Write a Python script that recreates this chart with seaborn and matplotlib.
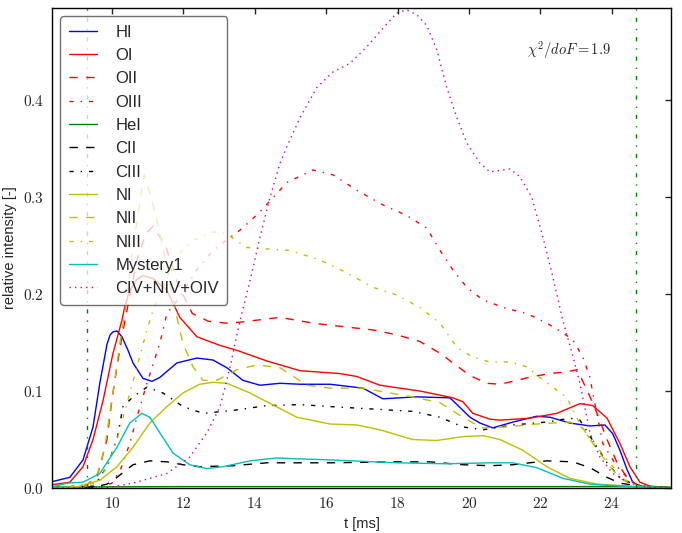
import numpy as np
import pandas as pd
import seaborn as sns
import matplotlib.pyplot as plt
from matplotlib.ticker import FuncFormatter, MultipleLocator

# Line intensities vs time
t_HI = [8.26, 8.82, 9.19, 9.47, 9.66, 9.86, 9.95, 10.03, 10.14, 10.28, 10.45, 10.59, 10.87, 11.12, 11.34, 11.82, 12.38,
        12.83, 13.22, 13.67, 14.15, 14.71, 15.27, 16.11, 17.03, 17.59, 18.54, 19.47, 20.03, 20.31, 20.67, 21.23,
        21.90, 22.27, 22.83, 23.39, 23.81, 24.03, 24.23, 24.43, 24.59, 24.79, 25.3, 25.7]
y_HI = [0.006, 0.011, 0.029, 0.063, 0.108, 0.148, 0.158, 0.161, 0.162, 0.156, 0.142, 0.129, 0.113, 0.110, 0.114, 0.129,
        0.134, 0.132, 0.124, 0.111, 0.106, 0.108, 0.107, 0.107, 0.103, 0.092, 0.094, 0.093, 0.073, 0.067, 0.062,
        0.068, 0.074, 0.073, 0.067, 0.064, 0.065, 0.056, 0.039, 0.019, 0.006, 0.002, 0.0, 0.0]

t_OI = [8.26, 8.82, 9.19, 9.47, 9.75, 10.03, 10.28, 10.36, 10.50, 10.70, 10.87, 11.15, 11.54, 11.90, 12.38, 13.03,
        13.50, 14.34, 15.27, 16.39, 16.86, 17.51, 18.63, 19.55, 19.83, 20.11, 20.59, 20.87, 21.71, 22.46, 23.11,
        23.47, 23.87, 24.23, 24.51, 24.79, 25.07, 25.7]
y_OI = [0.003, 0.006, 0.022, 0.050, 0.090, 0.139, 0.173, 0.187, 0.204, 0.215, 0.219, 0.216, 0.204, 0.176, 0.156, 0.147,
        0.142, 0.131, 0.121, 0.118, 0.115, 0.106, 0.100, 0.093, 0.089, 0.077, 0.071, 0.070, 0.072, 0.077, 0.087,
        0.085, 0.072, 0.046, 0.022, 0.006, 0.002, 0.0]

t_OII = [8.3, 9.2, 9.58, 9.86, 10.0, 10.14, 10.28, 10.42, 10.7, 10.95, 11.15, 11.5, 11.85, 12.25, 12.7, 13.2, 13.59,
         14.71, 15.63, 16.58, 17.31, 17.98, 18.63, 19.19, 19.55, 20.03, 20.50, 20.87, 21.34, 21.79, 22.27, 22.75,
         23.03, 23.31, 23.59, 23.87, 24.15, 24.43, 24.71, 25.2, 25.7]
y_OII = [0.0, 0.001, 0.011, 0.050, 0.091, 0.125, 0.156, 0.183, 0.235, 0.262, 0.27, 0.25, 0.21, 0.18, 0.172, 0.170, 0.171,
         0.176, 0.170, 0.166, 0.163, 0.158, 0.151, 0.139, 0.129, 0.116, 0.108, 0.107, 0.111, 0.115, 0.118, 0.120,
         0.122, 0.101, 0.077, 0.050, 0.026, 0.011, 0.003, 0.0, 0.0]

t_OIII = [8.3, 9.6, 10.0, 10.25, 10.5, 10.70, 10.98, 11.34, 11.54, 11.90, 12.38, 12.83, 13.22, 13.59, 13.95, 14.15,
          14.90, 15.63, 16.19, 16.86, 17.59, 18.26, 18.82, 19.19, 19.55, 19.94, 20.39, 21.06, 21.62, 22.18, 22.55,
          22.91, 23.19, 23.39, 23.47, 23.75, 24.15, 24.51, 24.71, 25.2, 25.7]
y_OIII = [0.0, 0.0, 0.005, 0.02, 0.046, 0.073, 0.108, 0.149, 0.180, 0.197, 0.225, 0.245, 0.256, 0.266, 0.278, 0.285,
          0.315, 0.328, 0.323, 0.307, 0.292, 0.281, 0.268, 0.245, 0.225, 0.207, 0.194, 0.185, 0.180, 0.170, 0.162,
          0.153, 0.135, 0.114, 0.098, 0.046, 0.022, 0.008, 0.003, 0.0, 0.0]

t_HeI = [8.3, 12.0, 16.0, 20.0, 24.0, 25.7]
y_HeI = [0.001, 0.0015, 0.0015, 0.0015, 0.0015, 0.001]

t_CII = [8.3, 9.5, 9.86, 10.14, 10.59, 11.06, 11.54, 11.99, 12.46, 13.39, 14.34, 15.27, 16.11, 17.98, 18.91, 19.83,
         20.59, 21.23, 22.18, 22.91, 23.39, 23.87, 24.23, 24.59, 25.2, 25.7]
y_CII = [0.0, 0.001, 0.004, 0.011, 0.024, 0.028, 0.027, 0.024, 0.022, 0.023, 0.026, 0.026, 0.026, 0.027, 0.027, 0.024,
         0.023, 0.024, 0.028, 0.027, 0.021, 0.011, 0.005, 0.003, 0.0, 0.0]

t_CIII = [8.3, 9.5, 9.86, 10.14, 10.31, 10.59, 10.98, 11.43, 11.99, 12.55, 13.39, 14.34, 15.27, 16.11, 17.51, 18.43,
          19.19, 19.83, 20.39, 21.23, 22.18, 22.83, 23.11, 23.47, 23.87, 24.23, 24.59, 25.2, 25.7]
y_CIII = [0.0, 0.002, 0.022, 0.050, 0.084, 0.094, 0.104, 0.098, 0.084, 0.077, 0.080, 0.085, 0.086, 0.084, 0.081, 0.079,
          0.073, 0.063, 0.060, 0.065, 0.068, 0.072, 0.070, 0.049, 0.026, 0.011, 0.004, 0.0, 0.0]

t_NI = [8.3, 9.0, 9.66, 10.14, 10.59, 11.06, 11.54, 11.99, 12.46, 12.83, 13.22, 13.87, 14.23, 15.18, 16.11, 16.86,
        17.51, 18.43, 19.10, 19.83, 20.39, 20.87, 21.51, 22.18, 22.83, 23.59, 24.51, 25.5]
y_NI = [0.0, 0.001, 0.008, 0.022, 0.042, 0.067, 0.084, 0.098, 0.107, 0.109, 0.108, 0.098, 0.091, 0.073, 0.066, 0.065,
        0.060, 0.050, 0.049, 0.053, 0.054, 0.050, 0.039, 0.022, 0.010, 0.004, 0.002, 0.0]

t_NII = [8.3, 9.3, 9.6, 9.80, 9.94, 10.08, 10.22, 10.36, 10.6, 10.9, 11.12, 11.34, 11.54, 11.71, 11.90, 11.99, 12.27,
         12.55, 12.94, 13.50, 14.06, 14.71, 15.46, 16.11, 17.03, 17.79, 18.54, 19.19, 19.83, 20.22, 20.31, 21.06,
         21.90, 22.83, 23.19, 23.47, 23.87, 24.23, 24.59, 25.2, 25.7]
y_NII = [0.0, 0.002, 0.015, 0.042, 0.077, 0.111, 0.149, 0.180, 0.250, 0.323, 0.297, 0.263, 0.228, 0.194, 0.163, 0.149,
         0.125, 0.111, 0.111, 0.122, 0.127, 0.124, 0.106, 0.103, 0.103, 0.098, 0.093, 0.088, 0.073, 0.065, 0.062,
         0.063, 0.066, 0.068, 0.062, 0.046, 0.026, 0.010, 0.003, 0.0, 0.0]

t_NIII = [8.3, 9.6, 9.9, 10.14, 10.45, 10.70, 10.98, 11.15, 11.57, 11.96, 12.32, 12.80, 13.17, 13.78, 14.15, 14.99,
          15.83, 16.58, 17.31, 17.98, 18.63, 19.19, 19.66, 20.11, 20.59, 21.15, 21.62, 21.99, 22.35, 22.75, 23.19,
          23.59, 23.95, 24.31, 24.59, 25.2, 25.7]
y_NIII = [0.0, 0.005, 0.025, 0.050, 0.091, 0.125, 0.163, 0.183, 0.218, 0.245, 0.256, 0.264, 0.263, 0.248, 0.247, 0.245,
          0.235, 0.222, 0.207, 0.199, 0.186, 0.170, 0.145, 0.135, 0.130, 0.130, 0.125, 0.114, 0.104, 0.093, 0.060,
          0.042, 0.026, 0.010, 0.004, 0.0, 0.0]

t_Mys = [8.3, 8.74, 9.19, 9.66, 10.14, 10.50, 10.84, 11.06, 11.34, 11.71, 12.18, 12.66, 13.11, 13.87, 14.62, 15.27,
         16.11, 17.98, 19.38, 20.59, 21.23, 21.90, 22.63, 23.39, 24.23, 25.7]
y_Mys = [0.001, 0.005, 0.006, 0.015, 0.042, 0.067, 0.077, 0.073, 0.057, 0.036, 0.024, 0.020, 0.022, 0.028, 0.031, 0.030,
         0.029, 0.026, 0.025, 0.026, 0.026, 0.021, 0.010, 0.004, 0.002, 0.0]

t_IV = [8.3, 9.8, 10.59, 11.54, 12.18, 12.66, 13.03, 13.31, 13.59, 13.87, 14.15, 14.43, 14.71, 14.90, 15.27, 15.74,
        16.19, 16.67, 17.14, 17.59, 17.98, 18.26, 18.54, 18.82, 19.10, 19.38, 19.66, 19.94, 20.31, 20.59, 21.15,
        21.43, 21.76, 22.07, 22.35, 22.63, 22.89, 23.11, 23.39, 23.67, 24.03, 24.51, 25.2, 25.7]
y_IV = [0.0, 0.0, 0.005, 0.015, 0.032, 0.057, 0.084, 0.125, 0.173, 0.214, 0.259, 0.300, 0.335, 0.352, 0.382, 0.413,
        0.429, 0.438, 0.455, 0.474, 0.490, 0.493, 0.488, 0.477, 0.452, 0.413, 0.382, 0.356, 0.335, 0.326, 0.329,
        0.321, 0.300, 0.259, 0.218, 0.173, 0.139, 0.108, 0.057, 0.032, 0.015, 0.005, 0.0, 0.0]

# window markers and fit quality
t_window = [9.3, 24.69]
chi2_dof = 1.9

series = [
    ('HI', t_HI, y_HI, '#0000ff', '-'),
    ('OI', t_OI, y_OI, '#ff0000', '-'),
    ('OII', t_OII, y_OII, '#ff0000', '--'),
    ('OIII', t_OIII, y_OIII, '#ff0000', '-.'),
    ('HeI', t_HeI, y_HeI, '#008000', '-'),
    ('CII', t_CII, y_CII, '#000000', '--'),
    ('CIII', t_CIII, y_CIII, '#000000', '-.'),
    ('NI', t_NI, y_NI, '#bfbf00', '-'),
    ('NII', t_NII, y_NII, '#bfbf00', '--'),
    ('NIII', t_NIII, y_NIII, '#bfbf00', '-.'),
    ('Mystery1', t_Mys, y_Mys, '#00bfbf', '-'),
    ('CIV+NIV+OIV', t_IV, y_IV, '#bf00bf', ':'),
]

sns.set_style('white')
plt.rcParams['font.family'] = ['Liberation Sans', 'DejaVu Sans']
plt.rcParams['mathtext.fontset'] = 'cm'
plt.rcParams['lines.dashed_pattern'] = [6, 6]
plt.rcParams['lines.dashdot_pattern'] = [3, 5, 1, 5]
plt.rcParams['lines.dotted_pattern'] = [1, 3]
plt.rcParams['lines.scale_dashes'] = False

fig = plt.figure(figsize=(6.82, 5.33), dpi=100)
ax = fig.add_axes([0.0762, 0.0844, 0.9076, 0.9006])

for name, t, y, c, ls in series:
    sns.lineplot(x=t, y=y, ax=ax, color=c, linestyle=ls, linewidth=1.0, label=name)

for tw in t_window:
    ax.axvline(tw, color='#008000', linestyle='-.', linewidth=1.0)

ax.text(21.62, 0.452, r'$\chi^2/doF = %.1f$' % chi2_dof, fontsize=10.5, va='center', ha='left')

ax.set_xlim(8.32, 25.66)
ax.set_ylim(0, 0.495)
ax.xaxis.set_major_locator(MultipleLocator(2))
ax.yaxis.set_major_locator(MultipleLocator(0.1))
ax.xaxis.set_major_formatter(FuncFormatter(lambda v, p: r'$%d$' % round(v)))
ax.yaxis.set_major_formatter(FuncFormatter(lambda v, p: r'$%.1f$' % v))
ax.tick_params(direction='in', top=True, right=True, length=4, width=1, labelsize=11, pad=6)
for s in ax.spines.values():
    s.set_linewidth(1.0)
    s.set_color('black')

ax.set_xlabel('t [ms]', fontsize=10.5)
ax.set_ylabel('relative intensity [-]', fontsize=10.5)

leg = ax.legend(loc='upper left', fontsize=12, fancybox=True, framealpha=0.75, edgecolor='0.25',
                labelspacing=0.5, handlelength=1.7, handletextpad=1.1, borderpad=0.5, borderaxespad=0.5)
leg.get_frame().set_linewidth(1.0)

fig.savefig('out.png', dpi=100)
